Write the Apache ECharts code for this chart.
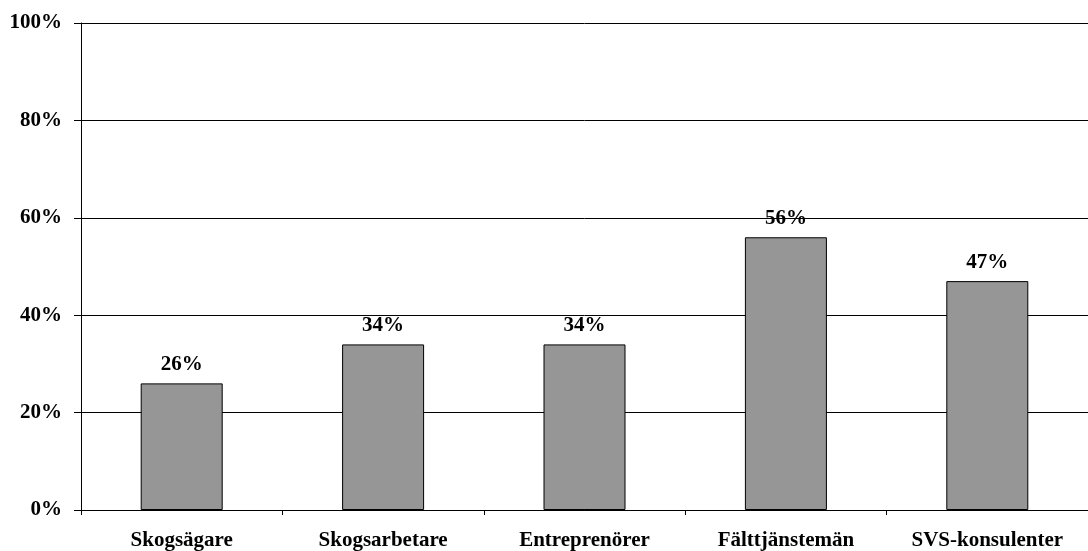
<!DOCTYPE html>
<html><head><meta charset="utf-8">
<script src="https://cdn.jsdelivr.net/npm/echarts@6/dist/echarts.min.js"></script>
<style>html,body{margin:0;padding:0;background:#fff}#c{width:1088px;height:551px}</style>
</head><body><div id="c"></div>
<script>
const categories = ['Skogsägare', 'Skogsarbetare', 'Entreprenörer', 'Fälttjänstemän', 'SVS-konsulenter'];
const values = [26, 34, 34, 56, 47];
const yTicks = [0, 20, 40, 60, 80, 100];

const font = '"Liberation Serif", "Times New Roman", serif';
const chart = echarts.init(document.getElementById('c'), null, {renderer: 'canvas'});
chart.setOption({
  animation: false,
  grid: {left: 81, top: 23, width: 1018, height: 487, containLabel: false},
  xAxis: {
    type: 'category', data: categories,
    axisLine: {show: true, lineStyle: {color: '#000', width: 1}},
    axisTick: {show: true, length: 5, lineStyle: {color: '#000'}, alignWithLabel: false},
    axisLabel: {color: '#000', fontFamily: font, fontWeight: 'bold', fontSize: 21, margin: 20}
  },
  yAxis: {
    type: 'value', min: yTicks[0], max: yTicks[yTicks.length - 1], interval: 20,
    axisLine: {show: true, lineStyle: {color: '#000', width: 1}},
    axisTick: {show: true, inside: false, length: 7, lineStyle: {color: '#000'}},
    splitLine: {show: true, lineStyle: {color: '#000', width: 1}},
    axisLabel: {color: '#000', fontFamily: font, fontWeight: 'bold', fontSize: 21, margin: 19,
      formatter: v => v + '%'}
  },
  series: [{
    type: 'bar', data: values, barWidth: 82,
    itemStyle: {color: '#969696', borderColor: '#000', borderWidth: 1},
    label: {show: true, position: 'top', distance: 8, color: '#000', fontFamily: font,
      fontWeight: 'bold', fontSize: 21, formatter: p => p.value + '%'}
  }]
});
</script></body></html>
